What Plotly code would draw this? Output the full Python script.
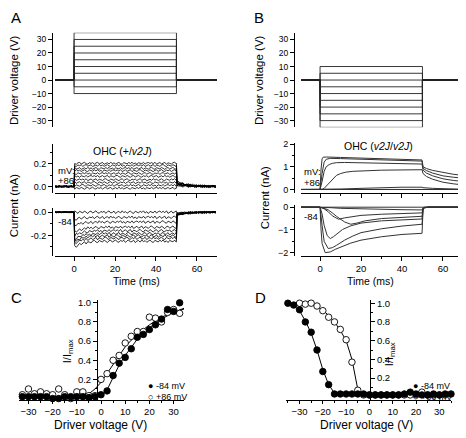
import numpy as np
import plotly.graph_objects as go

# The page body adds an 8 px margin, so the figure is drawn 8 px in and
# sized to end exactly at the window edge.
OFF = 8
W, H = 466 - OFF, 438 - OFF
def px(x): return (x - OFF) / W
def py(y): return 1 - (y - OFF) / H

FONT = "Liberation Sans, Arial, sans-serif"

# ---------------- data ----------------
DRIVE_A = [35, 30, 25, 20, 15, 10, 5, 0, -5, -10]          # V
DRIVE_B = [10, 5, 0, -5, -10, -15, -20, -25, -30, -35]     # V
T_START, T_ON, T_OFF, T_END = -9.3, 0.0, 50.0, 69.8         # ms

# Panel A, +86 mV: plateau current (nA) and current just after step end
A_UP_LEVEL = [0.205, 0.185, 0.16, 0.14, 0.115, 0.09, 0.06, 0.035, 0.01, -0.015]
A_UP_TAIL = [0.045, 0.04, 0.035, 0.03, 0.03, 0.025, 0.02, 0.015, 0.01, 0.005]
# Panel A, -84 mV: plateau current, onset current, current just after step end
A_LO_LEVEL = [0.0, -0.045, -0.085, -0.13, -0.16, -0.185, -0.205, -0.225, -0.25]
A_LO_ONSET = [0.0, -0.06, -0.11, -0.17, -0.2, -0.23, -0.25, -0.27, -0.3]
A_LO_TAIL = [-0.005, -0.01, -0.012, -0.015, -0.018, -0.02, -0.022, -0.025, -0.028]
# hand-read recording noise (nA)
NOISE = [0.006, -0.004, 0.009, -0.008, 0.002, 0.007, -0.006, -0.001, 0.008, -0.009,
         0.004, 0.000, -0.007, 0.005, 0.009, -0.003, -0.008, 0.006, 0.001, -0.005,
         0.008, -0.002, -0.009, 0.004, 0.007, -0.006, 0.002, 0.009, -0.004, -0.007,
         0.005, -0.001, 0.006, -0.008, 0.003, 0.008, -0.005, -0.002, 0.007, -0.009,
         0.001, 0.005, -0.006, 0.009, -0.003, 0.004, -0.007, 0.002, 0.008, -0.004,
         -0.008, 0.006, 0.000, -0.005, 0.007, -0.002, 0.009, -0.006, 0.003, -0.009,
         0.005, 0.001, -0.004, 0.008, -0.006, 0.003, 0.007, -0.002]
ONSET_SHAPE = [1.0, 0.85, 0.7, 0.55, 0.45, 0.37, 0.3, 0.25, 0.2, 0.16, 0.13, 0.1, 0.08,
               0.06, 0.05, 0.04, 0.03, 0.02, 0.01]
TAIL_SHAPE = [1.0, 0.85, 0.7, 0.6, 0.5, 0.42, 0.35, 0.3, 0.25, 0.2, 0.17, 0.14, 0.12,
              0.1, 0.08, 0.07, 0.06, 0.05, 0.04, 0.03, 0.02]

# Panel B currents (time ms, current nA)
B_UP = [
    ([-9.3, 0, 0.5, 1, 1.5, 3, 10, 20, 30, 40, 49.8, 50.3, 52, 55, 60, 65, 69.8],
     [0, 0, 0.9, 1.35, 1.42, 1.43, 1.41, 1.38, 1.35, 1.33, 1.30, 1.0, 0.92, 0.84, 0.74, 0.67, 0.62]),
    ([-9.3, 0, 1, 2, 3, 5, 10, 20, 30, 40, 49.8, 50.3, 52, 55, 60, 65, 69.8],
     [0, 0, 0.7, 1.2, 1.33, 1.37, 1.36, 1.33, 1.3, 1.28, 1.25, 0.93, 0.83, 0.72, 0.6, 0.54, 0.5]),
    ([-9.3, 0, 1, 2, 3, 4.5, 6, 8, 12, 20, 30, 40, 49.8, 50.3, 52, 55, 60, 65, 69.8],
     [0, 0, 0.35, 0.8, 1.0, 1.1, 1.15, 1.18, 1.19, 1.18, 1.16, 1.14, 1.12, 0.85, 0.72, 0.6, 0.47, 0.4, 0.35]),
    ([-9.3, 1, 2, 3, 4.5, 6, 8, 10, 12.5, 16, 22, 30, 40, 49.8, 50.3, 52, 55, 60, 65, 69.8],
     [0, 0, 0.05, 0.15, 0.29, 0.45, 0.62, 0.7, 0.76, 0.8, 0.83, 0.85, 0.86, 0.87, 0.7, 0.57, 0.45, 0.32, 0.25, 0.2]),
    ([-9.3, 2, 10, 20, 30, 40, 49.8, 50.3, 55, 60, 69.8],
     [0, 0, 0.02, 0.05, 0.08, 0.1, 0.1, 0.08, 0.05, 0.03, 0.01]),
    ([-9.3, 2, 20, 49.8, 50.3, 60, 69.8],
     [0, 0, 0.02, 0.03, 0.02, 0.01, 0.0]),
    ([-9.3, 49.8, 50.3, 69.8],
     [0, 0.0, 0.0, 0.0]),
]
B_LO = [
    ([-9.3, 0, 0.5, 1, 2.5, 5, 7.5, 10, 15, 20, 30, 40, 49.8, 50.3, 51, 53, 69.8],
     [0, 0, -1.0, -1.6, -2.0, -1.97, -1.85, -1.75, -1.58, -1.45, -1.3, -1.2, -1.15, -0.1, -0.03, 0, 0]),
    ([-9.3, 0, 1, 2, 4, 6, 8, 12, 16, 20, 30, 40, 49.8, 50.3, 51, 53, 69.8],
     [0, 0, -0.8, -1.5, -1.82, -1.78, -1.68, -1.45, -1.27, -1.12, -0.95, -0.83, -0.75, -0.08, -0.02, 0, 0]),
    ([-9.3, 0, 1, 2, 3.5, 5, 6.5, 8, 11, 15, 20, 30, 40, 49.8, 50.3, 51, 53, 69.8],
     [0, 0, -0.3, -0.8, -1.25, -1.38, -1.3, -1.18, -0.98, -0.82, -0.7, -0.6, -0.55, -0.52, -0.06, -0.02, 0, 0]),
    ([-9.3, 0, 2, 4, 6, 8, 12, 15, 18, 22, 30, 40, 49.8, 50.3, 51, 53, 69.8],
     [0, 0, -0.05, -0.12, -0.25, -0.4, -0.65, -0.75, -0.7, -0.6, -0.5, -0.44, -0.4, -0.05, -0.02, 0, 0]),
    ([-9.3, 0, 2, 4, 6, 9, 12, 16, 20, 30, 40, 49.8, 50.3, 51, 53, 69.8],
     [0, 0, -0.07, -0.2, -0.38, -0.53, -0.47, -0.4, -0.36, -0.31, -0.28, -0.25, -0.04, -0.01, 0, 0]),
    ([-9.3, 0, 5, 10, 20, 30, 40, 49.8, 50.3, 51, 69.8],
     [0, 0, -0.02, -0.05, -0.08, -0.1, -0.11, -0.12, -0.03, 0, 0]),
    ([-9.3, 0, 20, 49.8, 50.3, 69.8],
     [0, 0, -0.01, -0.02, 0, 0]),
]

# Panels C and D: driver voltage (V) vs normalised current
C_V = [-32.5, -30, -27.5, -25, -22.5, -20, -17.5, -15, -12.5, -10, -7.5, -5, -2.5, 0,
       2.5, 5, 7.5, 10, 12.5, 15, 17.5, 20, 22.5, 25, 27.5, 30, 32.5, 35]
C_NEG = [0.02, 0.02, 0.02, 0.02, 0.02, 0.0, 0.0, 0.02, 0.02, 0.02, 0.02, 0.01, 0.02, 0.04,
         0.08, 0.24, 0.37, 0.43, 0.52, 0.64, 0.67, 0.72, 0.77, 0.83, 0.93, 0.91, 1.0, None]
C_POS = [0.04, 0.10, 0.05, 0.07, 0.05, 0.04, 0.10, 0.04, 0.0, 0.07, 0.07, 0.03, 0.03, 0.2,
         0.26, 0.40, 0.45, 0.58, 0.65, 0.70, 0.70, 0.85, 0.84, 0.80, 0.90, 0.93, 0.89, 1.0]
C_FIT_NEG_V = [-33, -5, 0, 2.5, 5, 7.5, 10, 12.5, 15, 20, 25, 30, 35]
C_FIT_NEG = [0.02, 0.02, 0.03, 0.09, 0.22, 0.35, 0.45, 0.54, 0.62, 0.74, 0.83, 0.9, 0.95]
C_FIT_POS_V = [-33, -10, -5, -2.5, 0, 2.5, 5, 7.5, 10, 12.5, 15, 20, 25, 30, 35]
C_FIT_POS = [0.02, 0.02, 0.05, 0.1, 0.17, 0.26, 0.36, 0.45, 0.54, 0.61, 0.67, 0.77, 0.85, 0.9, 0.94]

D_V = [-35, -32.5, -30, -27.5, -25, -22.5, -20, -17.5, -15, -12.5, -10, -7.5, -5, -2.5, 0,
       2.5, 5, 7.5, 10, 12.5, 15, 17.5, 20, 22.5, 25, 27.5, 30, 32.5, 35]
D_NEG = [1.0, 0.98, 0.93, 0.80, 0.69, 0.50, 0.27, 0.13, 0.03, 0.03, 0.03, 0.03, 0.03, 0.03, 0.02,
         0.02, 0.02, 0.02, 0.02, 0.02, 0.03, 0.05, 0.03, 0.02, 0.02, 0.03, 0.02, 0.03, 0.03]
D_POS = [None, None, 1.0, 0.99, 1.0, 0.97, 0.92, 0.85, 0.80, 0.72, 0.61, 0.37, 0.07, 0.02, 0.02,
         0.02, 0.02, 0.02, 0.02, 0.02, 0.02, 0.02, 0.02, 0.05, 0.02, 0.02, 0.02, 0.02, None]
D_FIT_NEG_V = [-35, -32.5, -30, -27.5, -25, -22.5, -20, -17.5, -15, -12.5]
D_FIT_NEG = [1.0, 0.97, 0.92, 0.81, 0.68, 0.5, 0.29, 0.13, 0.04, 0.02]
D_FIT_POS_V = [-30, -27.5, -25, -22.5, -20, -17.5, -15, -12.5, -10, -7.5, -5, -2.5]
D_FIT_POS = [1.0, 0.995, 0.985, 0.965, 0.925, 0.87, 0.8, 0.71, 0.6, 0.4, 0.08, 0.02]

TIME_TICKS = [0, 20, 40, 60]
DRIVE_TICKS = [30, 20, 10, 0, -10, -20, -30]
V_TICKS = [-30, -20, -10, 0, 10, 20, 30]
I_TICKS = [0.2, 0.4, 0.6, 0.8, 1.0]

# ---------------- figure ----------------
fig = go.Figure()
BLK = "black"

def line(ax, x, y, color=BLK, width=0.8):
    fig.add_trace(go.Scatter(x=x, y=y, mode="lines", xaxis="x" + ax, yaxis="y" + ax,
                             line=dict(color=color, width=width), showlegend=False,
                             hoverinfo="skip"))

# driver voltage protocols
for ax, levels in (("", DRIVE_A), ("2", DRIVE_B)):
    for v in levels:
        line(ax, [T_START, T_ON, T_ON, T_OFF, T_OFF, T_END], [0, 0, v, v, 0, 0],
             color="#222", width=0.9)

# Panel A noisy traces
t_pre = np.arange(T_START, T_ON, 0.8)
t_on = np.arange(T_ON + 0.3, T_OFF, 0.8)
t_off = np.arange(T_OFF + 0.3, T_END + 0.01, 0.95)
n = len(NOISE)
def noise(k, m, scale):
    return np.array([NOISE[(k * 7 + i) % n] for i in range(m)]) * scale

def tail(v, m):
    return np.array([v * TAIL_SHAPE[min(i, len(TAIL_SHAPE) - 1)] for i in range(m)])

for k, (lev, tl) in enumerate(zip(A_UP_LEVEL, A_UP_TAIL)):
    pre = noise(k, len(t_pre), 0.7)
    on = lev + noise(k + 3, len(t_on), 1.0)
    off = tail(tl, len(t_off)) + noise(k + 5, len(t_off), 1.0)
    line("3", np.concatenate([t_pre, [T_ON], t_on, [T_OFF], t_off]),
         np.concatenate([pre, [0], on, [lev], off]))

for k, (lev, ons, tl) in enumerate(zip(A_LO_LEVEL, A_LO_ONSET, A_LO_TAIL)):
    pre = noise(k, len(t_pre), 0.5)
    shape = np.array([ONSET_SHAPE[min(i, len(ONSET_SHAPE) - 1)] for i in range(len(t_on))])
    on = lev + (ons - lev) * shape + noise(k + 2, len(t_on), 1.3)
    off = tail(tl, len(t_off)) + noise(k + 4, len(t_off), 0.8)
    line("4", np.concatenate([t_pre, [T_ON], t_on, [T_OFF], t_off]),
         np.concatenate([pre, [0], on, [lev], off]))

for t, i in B_UP:
    line("5", t, i, color="#333", width=1)
for t, i in B_LO:
    line("6", t, i, color="#333", width=1)

# Panel C / D fitted curves
line("7", C_FIT_NEG_V, C_FIT_NEG, width=1)
line("7", C_FIT_POS_V, C_FIT_POS, width=1)
line("8", D_FIT_NEG_V, D_FIT_NEG, width=1)
line("8", D_FIT_POS_V, D_FIT_POS, width=1)

def pts(ax, x, y, filled):
    fig.add_trace(go.Scatter(
        x=x, y=y, mode="markers", xaxis="x" + ax, yaxis="y" + ax, cliponaxis=False,
        marker=dict(symbol="circle", size=6.5, color=BLK if filled else "white",
                    line=dict(color=BLK, width=0.9)),
        showlegend=False, hoverinfo="skip"))

pts("7", C_V, C_POS, False)
pts("7", C_V, C_NEG, True)
pts("8", D_V, D_POS, False)
pts("8", D_V, D_NEG, True)

# ---------------- axes ----------------
tickfont = dict(family=FONT, size=9, color=BLK)
common = dict(showline=True, linecolor=BLK, linewidth=1, ticks="outside", ticklen=4,
              tickwidth=1, tickcolor=BLK, showgrid=False, zeroline=False, tickfont=tickfont)
minor_t = dict(ticks="outside", ticklen=2, tickwidth=1, tickcolor=BLK, showgrid=False, dtick=10, tick0=0)

def xdom(a, b): return [px(a), px(b)]
def ydom(top, bot): return [py(bot), py(top)]

lay = dict(
    width=W, height=H, margin=dict(l=0, r=0, t=0, b=0),
    paper_bgcolor="white", plot_bgcolor="rgba(0,0,0,0)", showlegend=False,
    font=dict(family=FONT, color=BLK),
)

# A driver
lay["xaxis"] = dict(domain=xdom(55, 217), range=[T_START, T_END], visible=False, anchor="y")
lay["yaxis"] = dict(common, domain=ydom(29, 125), range=[-35, 35], tickvals=DRIVE_TICKS,
                    anchor="free", position=px(52), tickfont=dict(tickfont, size=8.5))
# B driver
lay["xaxis2"] = dict(domain=xdom(301, 463), range=[T_START, T_END], visible=False, anchor="y2")
lay["yaxis2"] = dict(common, domain=ydom(29, 125), range=[-35, 35], tickvals=DRIVE_TICKS,
                     anchor="free", position=px(294), tickfont=dict(tickfont, size=8.5))

def time_x(dom_a, dom_b, anchor, labels):
    return dict(common, domain=xdom(dom_a, dom_b), range=[T_START, T_END], tickvals=TIME_TICKS,
                showticklabels=labels, anchor=anchor, minor=minor_t,
                tickfont=dict(tickfont, size=9.5))

# A currents
lay["xaxis3"] = time_x(55, 217, "y3", False)
lay["yaxis3"] = dict(common, domain=ydom(142, 192), range=[-0.061, 0.374], tickvals=[0.0, 0.2],
                     ticktext=["0.0", "0.2"], anchor="free", position=px(52),
                     minor=dict(minor_t, dtick=0.1))
lay["xaxis4"] = time_x(55, 217, "y4", True)
lay["yaxis4"] = dict(common, domain=ydom(207, 255), range=[-0.374, 0.034], tickvals=[0.0, -0.2],
                     ticktext=["0.0", "-0.2"], anchor="free", position=px(52),
                     minor=dict(minor_t, dtick=0.1))
# B currents
lay["xaxis5"] = time_x(301, 463, "y5", False)
lay["yaxis5"] = dict(common, domain=ydom(141, 192), range=[-0.174, 2.04], tickvals=[0, 1, 2],
                     anchor="free", position=px(294), minor=dict(minor_t, dtick=0.5))
lay["xaxis6"] = time_x(301, 463, "y6", True)
lay["yaxis6"] = dict(common, domain=ydom(204, 255), range=[-2.128, 0.085], tickvals=[0, -1, -2],
                     anchor="free", position=px(294), minor=dict(minor_t, dtick=0.5))

# C
lay["xaxis7"] = dict(common, domain=xdom(19, 184), range=[-33.9, 34.3], tickvals=V_TICKS,
                     anchor="y7", minor=dict(minor_t, dtick=5, tick0=0), ticklen=3,
                     tickfont=dict(tickfont, size=9.5))
lay["yaxis7"] = dict(common, domain=ydom(300, 401), range=[-0.01, 1.03], tickvals=I_TICKS,
                     tickformat=".1f", anchor="free", position=px(97),
                     minor=dict(minor_t, dtick=0.1, tick0=0), tickfont=dict(tickfont, size=9.5))
# D
lay["xaxis8"] = dict(common, domain=xdom(286, 451), range=[-35.8, 35], tickvals=V_TICKS,
                     anchor="y8", minor=dict(minor_t, dtick=5, tick0=0), ticklen=3,
                     tickfont=dict(tickfont, size=9.5))
lay["yaxis8"] = dict(common, domain=ydom(300, 401), range=[-0.029, 1.035], tickvals=I_TICKS,
                     tickformat=".1f", anchor="free", position=px(370), side="right",
                     minor=dict(minor_t, dtick=0.1, tick0=0), tickfont=dict(tickfont, size=9.5))

fig.update_layout(**lay)

# ---------------- text ----------------
def txt(x, y, s, size=10, angle=0, xanchor="center"):
    fig.add_annotation(x=px(x), y=py(y), xref="paper", yref="paper", text=s, showarrow=False,
                       textangle=angle, xanchor=xanchor, yanchor="middle",
                       font=dict(family=FONT, size=size, color=BLK))

txt(8.5, 14, "A", 15, xanchor="left")
txt(252, 14, "B", 15, xanchor="left")
txt(8.5, 298, "C", 15, xanchor="left")
txt(253, 298, "D", 15, xanchor="left")
txt(14, 77, "Driver voltage (V)", 11.5, -90)
txt(259, 77, "Driver voltage (V)", 11.5, -90)
txt(14, 205, "Current (nA)", 11.5, -90)
txt(265, 197, "Current (nA)", 11.5, -90)
txt(122, 149, "OHC (+/<i>v2J</i>)", 10.5)
txt(378, 144, "OHC (<i>v2J</i>/<i>v2J</i>)", 10.5)
txt(56, 169, "mV:", 9.5, xanchor="left")
txt(56, 179, "+86", 9.5, xanchor="left")
txt(56, 220, "-84", 9.5, xanchor="left")
txt(302, 170, "mV:", 9.5, xanchor="left")
txt(302, 181, "+86", 9.5, xanchor="left")
txt(302, 215, "-84", 9.5, xanchor="left")
txt(136, 281, "Time (ms)", 10.5)
txt(370, 281, "Time (ms)", 10.5)
txt(100, 427, "Driver voltage (V)", 12)
txt(366, 427, "Driver voltage (V)", 12)
txt(68, 352, "I/I<sub>max</sub>", 11, -90)
txt(390, 355, "I/I<sub>max</sub>", 11, -90)
txt(146, 387, "● -84 mV", 9, xanchor="left")
txt(146, 398, "○ +86 mV", 9, xanchor="left")
txt(411, 387, "● -84 mV", 9, xanchor="left")
txt(411, 398, "○ +86 mV", 9, xanchor="left")

fig.write_html("out.html")
